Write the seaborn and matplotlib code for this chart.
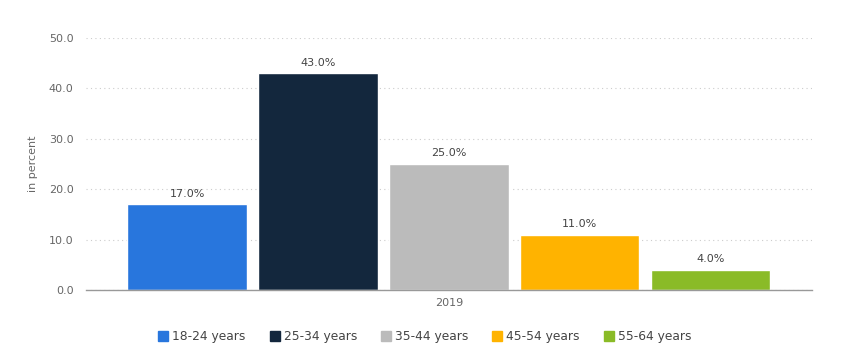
import pandas as pd
import matplotlib
matplotlib.use('Agg')
import matplotlib.pyplot as plt
import seaborn as sns
from matplotlib.lines import Line2D

# data
year = ['2019']
age_groups = ['18-24 years', '25-34 years', '35-44 years', '45-54 years', '55-64 years']
share = [17.0, 43.0, 25.0, 11.0, 4.0]
colors = ['#2876dd', '#13273d', '#bbbbbb', '#ffb300', '#8abb27']

df = pd.DataFrame({'year': year * len(age_groups), 'age': age_groups, 'share': share})

sns.set_style('white')
plt.rcParams['font.family'] = ['DejaVu Sans']

fig = plt.figure(figsize=(8.49, 3.62), dpi=100)
ax = fig.add_axes([0.1013, 0.1989, 0.855, 0.696])

sns.barplot(data=df, x='year', y='share', hue='age', palette=colors,
            width=0.8, gap=0.09, saturation=1, legend=False, ax=ax)

# value labels
for c in ax.containers:
    ax.bar_label(c, labels=[f'{v:.1f}%' for v in c.datavalues], padding=4,
                 fontsize=8, color='#444444')

ax.set_xlim(-0.4435, 0.4435)
ax.set_ylim(0, 50)
ax.set_yticks([0, 10, 20, 30, 40, 50])
ax.set_yticklabels([f'{t:.1f}' for t in [0, 10, 20, 30, 40, 50]])
ax.yaxis.grid(True, linestyle=(0, (1, 3)), color='#cccccc', linewidth=0.8)
ax.set_axisbelow(True)
ax.tick_params(axis='both', length=0, labelsize=8, colors='#666666')
ax.tick_params(axis='y', pad=9)
ax.tick_params(axis='x', pad=6)
ax.set_xlabel('')
ax.set_ylabel('in percent', fontsize=8, color='#666666', labelpad=8)

for s in ['top', 'right', 'left']:
    ax.spines[s].set_visible(False)
ax.spines['bottom'].set_color('#999999')
ax.spines['bottom'].set_linewidth(1)

# legend
handles = [Line2D([0], [0], marker='s', linestyle='', markersize=7.5,
                  markerfacecolor=col, markeredgecolor=col) for col in colors]
fig.legend(handles, age_groups, loc='center', bbox_to_anchor=(0.5, 0.07), ncol=5,
           frameon=False, fontsize=8.8, labelcolor='#444444', handletextpad=0.3,
           columnspacing=1.9, handlelength=0.9)

fig.savefig('out.png', dpi=100)
